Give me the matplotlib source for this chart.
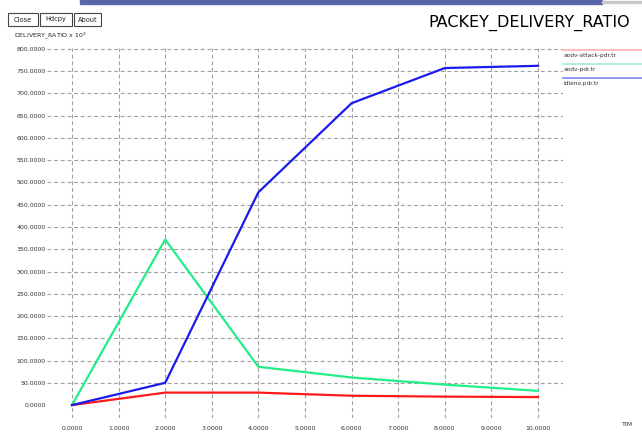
import matplotlib
matplotlib.use("Agg")
import matplotlib.pyplot as plt
from matplotlib.patches import Rectangle

# data
x_vals = [0, 2, 4, 6, 8, 10]
attack_pdr = [0, 28, 28, 21, 19, 18]
aodv_pdr = [0, 372, 86, 62, 46, 32]
idleno_pdr = [0, 50, 478, 678, 757, 762]

series_names = ["aodv-attack-pdr.tr", "aodv-pdr.tr", "idleno.pdr.tr"]
series_colors = ["#ff1a1a", "#22ee88", "#1a1aee"]
legend_colors = ["#ffb0b0", "#a0f0c8", "#8080f0"]

x_ticks = list(range(0, 11))
y_ticks = list(range(0, 801, 50))

fig = plt.figure(figsize=(6.42, 4.32), dpi=100)
W, H = 642.0, 432.0

# plot area in pixel coordinates of the window
ax = fig.add_axes([47 / W, 1 - 418 / H, (563 - 47) / W, (418 - 48) / H])
for s in ax.spines.values():
    s.set_visible(False)
ax.set_xlim(-0.536, 10.536)
ax.set_ylim(-29, 802)

# dashed grid (no line drawn at zero height)
for yv in y_ticks[1:]:
    ax.axhline(yv, color="#a0a0a0", lw=0.8, ls=(0, (3.5, 2.5)), zorder=1)
for xv in x_ticks:
    ax.plot([xv, xv], [-29, 802], color="#a0a0a0", lw=0.8, ls=(0, (3.5, 2.5)), zorder=1)

for vals, c in zip([attack_pdr, aodv_pdr, idleno_pdr], series_colors):
    ax.plot(x_vals, vals, color=c, lw=1.6, zorder=3)

ax.set_xticks(x_ticks)
ax.set_xticklabels(["%.4f" % v for v in x_ticks])
ax.set_yticks(y_ticks)
ax.set_yticklabels(["%.4f" % v for v in y_ticks])
ax.tick_params(axis="both", length=0, labelsize=4.5, colors="#333333")
ax.tick_params(axis="y", pad=1)
ax.tick_params(axis="x", pad=6)

# window decorations
fig.patches.append(Rectangle((80 / W, 1 - 4 / H), 522 / W, 4 / H,
                             transform=fig.transFigure, color="#5566aa"))
fig.patches.append(Rectangle((602 / W, 1 - 3 / H), 40 / W, 2 / H,
                             transform=fig.transFigure, color="#c8c8c8"))
buttons = [("Close", 8, 38), ("Hdcpy", 40, 72), ("About", 74, 101)]
for name, x0, x1 in buttons:
    fig.patches.append(Rectangle((x0 / W, 1 - 26 / H), (x1 - x0) / W, 13 / H,
                                 transform=fig.transFigure, fill=False,
                                 ec="#444444", lw=0.8))
    fig.text((x0 + x1) / 2 / W, 1 - 19.5 / H, name, fontsize=4.8,
             ha="center", va="center", color="#222222")

fig.text(14 / W, 1 - 36 / H, "DELIVERY_RATIO x 10$^3$", fontsize=4.5,
         ha="left", va="center", color="#222222")
fig.text(529 / W, 1 - 23 / H, "PACKEY_DELIVERY_RATIO", fontsize=11.5,
         ha="center", va="center", color="black")
fig.text(622 / W, 1 - 424 / H, "TIM", fontsize=4.5, ha="left", va="center",
         color="#333333")

# legend on the right edge
leg_y = [50, 64, 78]
for name, c, yp in zip(series_names, legend_colors, leg_y):
    fig.add_artist(plt.Line2D([563 / W, 1.0], [1 - yp / H, 1 - yp / H],
                              transform=fig.transFigure, color=c, lw=1.2))
    fig.text(564 / W, 1 - (yp + 5) / H, name, fontsize=4.2, ha="left",
             va="center", color="#333333")

fig.savefig("out.png", dpi=100)
